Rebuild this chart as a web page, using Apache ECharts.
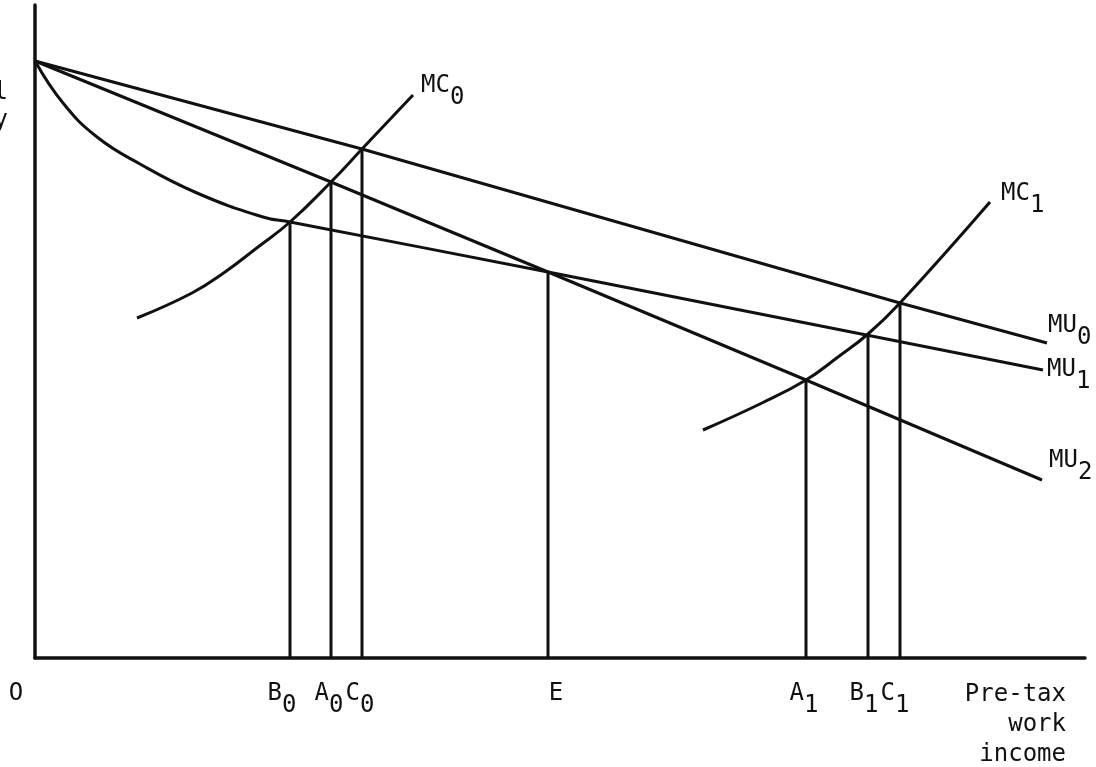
<!DOCTYPE html>
<html>
<head>
<meta charset="utf-8">
<title>Marginal utility and marginal cost of pre-tax work income</title>
<script src="https://cdn.jsdelivr.net/npm/echarts@6/dist/echarts.min.js"></script>
<style>
  html, body { margin: 0; padding: 0; background: #fff; }
  #chart { width: 1096px; height: 767px; }
</style>
</head>
<body>
<div id="chart"></div>
<script>
// curves (x: pre-tax work income, y: marginal utility / cost, arbitrary units)
const mu0 = [[0, 59.7], [32.7, 50.9], [86.5, 35.5], [101.2, 31.5]]
const mu1 = [[0, 59.7], [2.8, 55.5], [6.2, 52.1], [10.5, 49.4], [16.2, 46.5], [22.8, 44.1], [25.5, 43.6], [51.3, 38.6], [100.8, 28.8]]
const mu2 = [[0, 59.7], [29.6, 47.6], [51.3, 38.6], [77.1, 27.8], [100.7, 17.8]]
const mc0 = [[10.2, 34], [15.7, 36.5], [19, 38.6], [22.3, 41.1], [25.5, 43.6], [29.6, 47.6], [32.7, 50.9], [37.8, 56.3]]
const mc1 = [[66.8, 22.8], [72.7, 25.5], [77.1, 27.8], [80.3, 30.1], [83.3, 32.4], [86.5, 35.5], [95.5, 45.6]]
const curveNames = ['MU0', 'MU1', 'MU2', 'MC0', 'MC1']

// equilibrium points dropped to the income axis
const dropNames = ['B0', 'A0', 'C0', 'E', 'A1', 'B1', 'C1']
const dropX = [25.5, 29.6, 32.7, 51.3, 77.1, 83.3, 86.5]
const dropY = [43.6, 47.6, 50.9, 38.6, 27.8, 32.4, 35.5]

const xTitle = 'Pre-tax\nwork\nincome'
const yTitle = 'Marginal\nutility'

const INK = '#111'
const FONT = '"DejaVu Sans Mono", monospace'
const FS = 24

// label nudges in px (where the typist put them)
const curveLabelOffset = { MU0: [1, -29], MU1: [4, -12], MU2: [7, -31], MC0: [8, -21], MC1: [11, -20] }
const dropLabelNudge = { B0: -8, A0: -2, C0: -2, E: 8, A1: -2, B1: -4, C1: -5 }

const rich = {
  m: { fontFamily: FONT, fontSize: FS, lineHeight: FS, fill: INK, verticalAlign: 'top' },
  s: { fontFamily: FONT, fontSize: FS, lineHeight: FS, fill: INK, verticalAlign: 'top', padding: [12, 0, 0, 0] },
}
const subText = (main, sub) => (sub ? '{m|' + main + '}{s|' + sub + '}' : '{m|' + main + '}')

const lineSeries = (name, data, smooth) => ({
  name: name,
  type: 'line',
  data: data,
  smooth: smooth,
  symbol: 'none',
  silent: true,
  lineStyle: { color: INK, width: 3 },
  z: 3,
})

const chart = echarts.init(document.getElementById('chart'), null, { renderer: 'canvas' })

chart.setOption({
  backgroundColor: '#fff',
  animation: false,
  grid: { left: 35, right: 11, top: 5, bottom: 109 },
  xAxis: {
    type: 'value',
    min: 0,
    max: 105,
    axisLine: { onZero: false, lineStyle: { color: INK, width: 3.5 } },
    axisTick: { show: false },
    axisLabel: { show: false },
    splitLine: { show: false },
  },
  yAxis: {
    type: 'value',
    min: 0,
    max: 65.3,
    axisLine: { show: true, onZero: false, lineStyle: { color: INK, width: 3.5 } },
    axisTick: { show: false },
    axisLabel: { show: false },
    splitLine: { show: false },
  },
  series: [
    lineSeries('MU0', mu0, false),
    lineSeries('MU1', mu1, 0.45),
    lineSeries('MU2', mu2, false),
    lineSeries('MC0', mc0, 0.45),
    lineSeries('MC1', mc1, 0.45),
    {
      type: 'custom',
      silent: true,
      clip: false,
      data: dropX.map((x, i) => [x, dropY[i]]),
      renderItem: (params, api) => {
        const top = api.coord([api.value(0), api.value(1)])
        const base = api.coord([api.value(0), 0])
        const name = dropNames[params.dataIndex]
        return {
          type: 'group',
          children: [
            {
              type: 'line',
              shape: { x1: base[0], y1: base[1], x2: top[0], y2: top[1] },
              style: { stroke: INK, lineWidth: 3 },
            },
            {
              type: 'text',
              x: base[0] + (dropLabelNudge[name] || 0),
              y: base[1] + 24,
              style: { text: subText(name.slice(0, 1), name.slice(1)), rich: rich, align: 'center', verticalAlign: 'top' },
            },
          ],
        }
      },
    },
  ],
})

// curve-end labels, origin and axis titles
const curves = [mu0, mu1, mu2, mc0, mc1]
const graphics = curveNames.map((name, i) => {
  const end = curves[i][curves[i].length - 1]
  const p = chart.convertToPixel({ gridIndex: 0 }, end)
  const off = curveLabelOffset[name]
  return {
    type: 'text',
    x: p[0] + off[0],
    y: p[1] + off[1],
    silent: true,
    style: { text: subText(name.slice(0, 2), name.slice(2)), rich: rich, align: 'left', verticalAlign: 'top' },
  }
})

const o = chart.convertToPixel({ gridIndex: 0 }, [0, 0])
graphics.push({
  type: 'text',
  x: o[0] - 19,
  y: o[1] + 24,
  silent: true,
  style: { text: subText('O'), rich: rich, align: 'center', verticalAlign: 'top' },
})
graphics.push({
  type: 'text',
  x: 1066,
  y: o[1] + 22,
  silent: true,
  style: { text: xTitle, font: FS + 'px ' + FONT, fill: INK, lineHeight: 30, align: 'right', verticalAlign: 'top' },
})
graphics.push({
  type: 'text',
  x: 8,
  y: 79,
  silent: true,
  style: { text: yTitle, font: FS + 'px ' + FONT, fill: INK, lineHeight: 28, align: 'right', verticalAlign: 'top' },
})

chart.setOption({ graphic: graphics })
</script>
</body>
</html>
